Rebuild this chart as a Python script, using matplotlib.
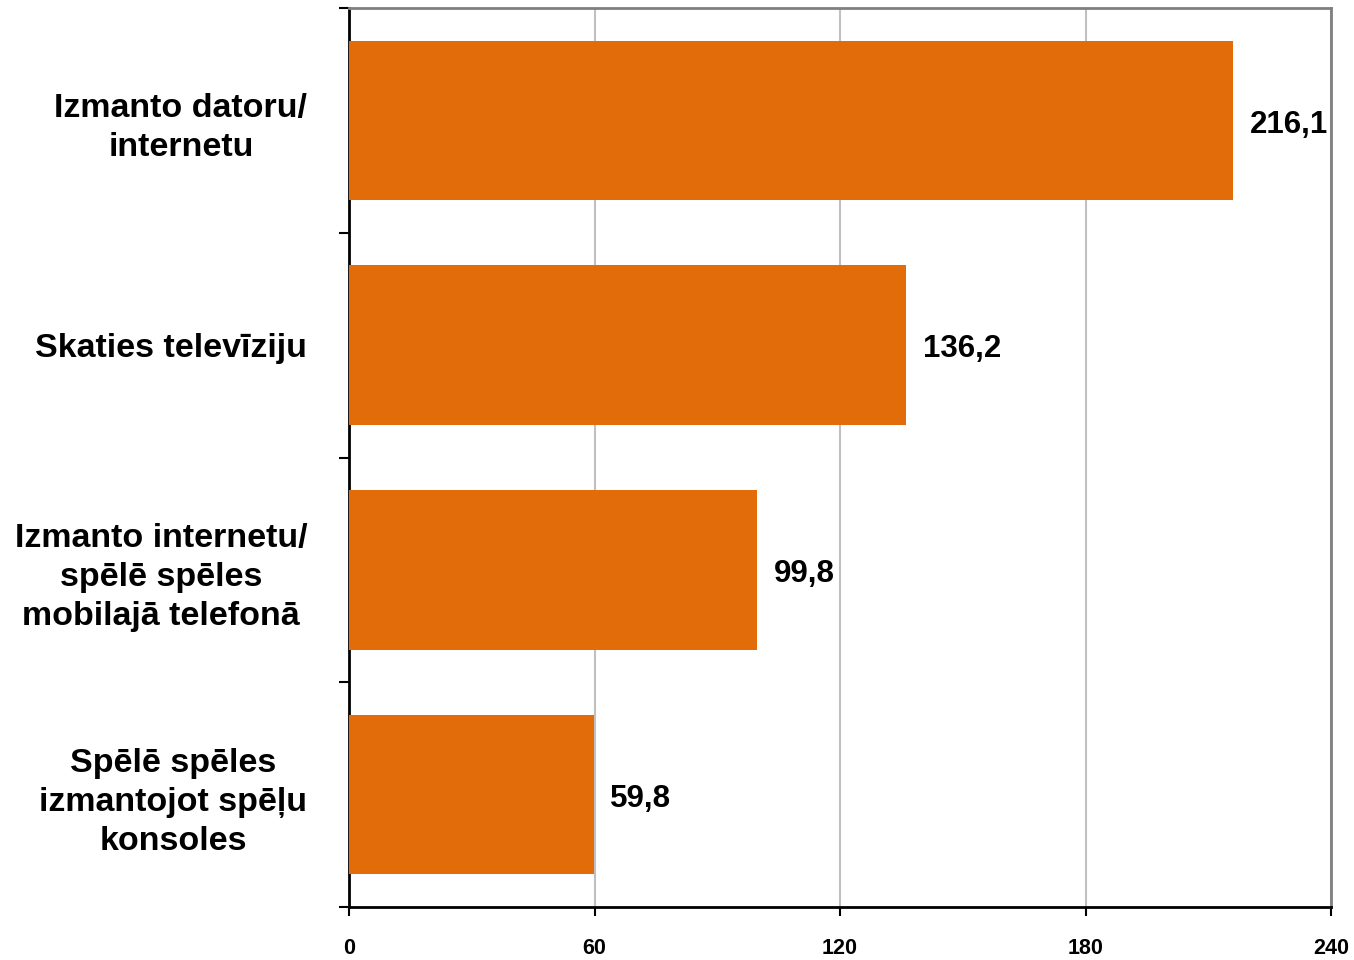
import matplotlib
matplotlib.use("Agg")
import matplotlib.pyplot as plt
import numpy as np

categories = ["Izmanto datoru/\ninternetu",
              "Skaties televīziju",
              "Izmanto internetu/\nspēlē spēles\nmobilajā telefonā",
              "Spēlē spēles\nizmantojot spēļu\nkonsoles"]
values = [216.1, 136.2, 99.8, 59.8]
value_labels = ["216,1", "136,2", "99,8", "59,8"]
xticks = [0, 60, 120, 180, 240]

plt.rcParams['font.family'] = ['Liberation Sans', 'DejaVu Sans']
plt.rcParams['font.weight'] = 'bold'

fig = plt.figure(figsize=(13.54, 9.60), dpi=100)
ax = fig.add_axes([349/1354, 1 - 907/960, (1331-349)/1354, (907-8)/960])

y = np.arange(len(categories))
ax.barh(y, values, height=0.71, color='#E36C0A', zorder=3)
ax.set_ylim(len(categories) - 0.5, -0.5)
ax.set_xlim(0, 240)

ax.set_xticks(xticks)
ax.set_xticklabels([str(t) for t in xticks], fontsize=15.5, fontweight='bold')
ax.xaxis.grid(True, color='#C0C0C0', linewidth=1.5, zorder=0)
ax.tick_params(axis='x', length=6.5, width=1.5, pad=16, color='black')

ax.set_yticks(y)
ax.set_yticklabels(categories, fontsize=24.5, fontweight='bold')
for lab in ax.get_yticklabels():
    lab.set_multialignment('center')
    lab.set_linespacing(1.33)
ax.tick_params(axis='y', which='major', length=0, pad=30)
ax.set_yticks(np.arange(-0.5, len(categories) + 0.5, 1), minor=True)
ax.tick_params(axis='y', which='minor', length=7, width=1.5, color='black')

for i, (v, s) in enumerate(zip(values, value_labels)):
    ax.annotate(s, (v, i), xytext=(12, -3), textcoords='offset points',
                va='center', ha='left', fontsize=22.5, fontweight='bold', zorder=4)

for side in ['left', 'bottom']:
    ax.spines[side].set_color('black')
    ax.spines[side].set_linewidth(2)
for side in ['top', 'right']:
    ax.spines[side].set_color('#808080')
    ax.spines[side].set_linewidth(2)

fig.savefig("out.png", dpi=100)
